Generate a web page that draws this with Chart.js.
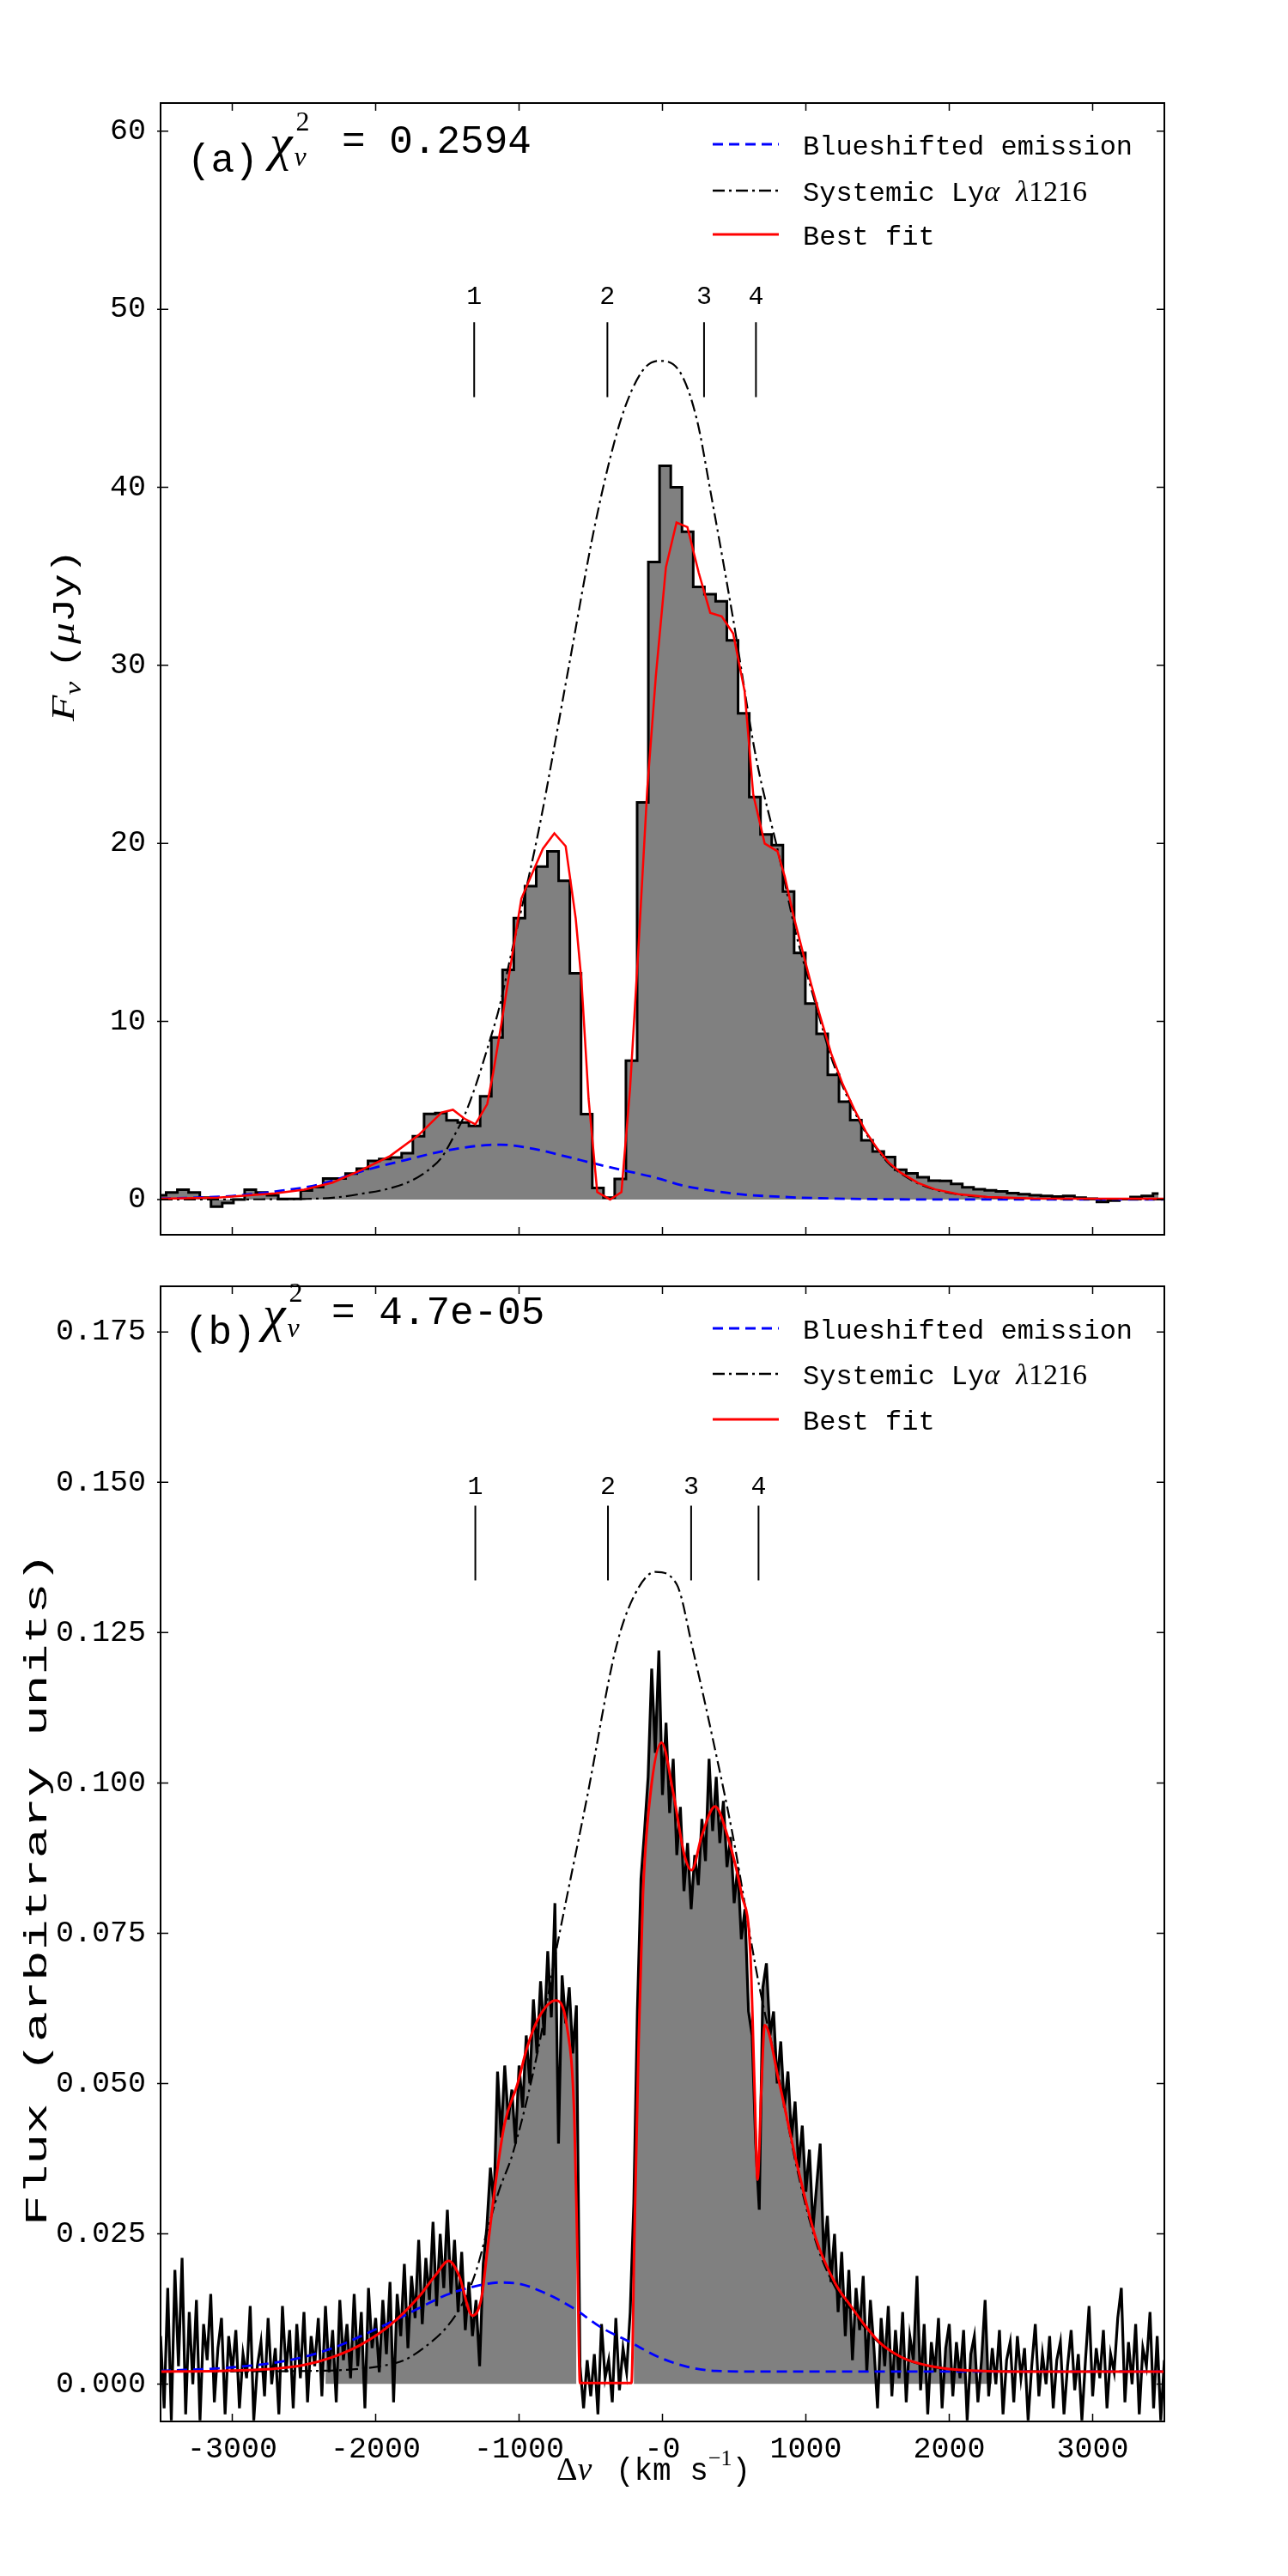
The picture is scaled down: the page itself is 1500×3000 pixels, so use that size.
<!DOCTYPE html>
<html>
<head>
<meta charset="utf-8">
<title>Lyman-alpha profile fits</title>
<script src="https://cdn.jsdelivr.net/npm/chart.js@4.4.1/dist/chart.umd.min.js"></script>
<style>
  body { margin: 0; background: #fff; }
  #wrap { position: relative; width: 1500px; height: 3000px; }
  canvas { position: absolute; left: 0; }
</style>
</head>
<body>
<div id="wrap">
  <canvas id="panelA" width="1500" height="1468" style="top:0"></canvas>
  <canvas id="panelB" width="1500" height="1532" style="top:1468px"></canvas>
</div>
<script>
// ---- shared axis data ----
const xTickValues = [-3000, -2000, -1000, 0, 1000, 2000, 3000];
const xTickLabels = ['-3000', '-2000', '-1000', '-0', '1000', '2000', '3000'];

// ---- panel (a): binned spectrum, uJy ----
const yTicksA = [0, 10, 20, 30, 40, 50, 60];
const yLabelsA = ['0', '10', '20', '30', '40', '50', '60'];
const histA_start = -3500.1;   // centre of first (partial) bin
const histA_width = 78.2;
const histA_f = [
  0.24, 0.4, 0.55, 0.4, 0.1, -0.4, -0.2, 0.0, 0.55, 0.4,
  0.24, 0.03, 0.03, 0.5, 0.7, 1.18, 1.18, 1.45, 1.73, 2.17,
  2.28, 2.36, 2.6, 3.55, 4.81, 4.85, 4.44, 4.33, 4.13, 5.8,
  9.1, 12.9, 15.8, 17.6, 18.7, 19.55, 17.9, 12.7, 4.8, 0.65,
  0.1, 1.15, 7.8, 22.3, 35.8, 41.2, 40.0, 37.5, 34.4, 34.0,
  33.6, 31.4, 27.3, 22.6, 20.5, 19.9, 17.3, 13.85, 11.0, 9.3,
  7.0, 5.5, 4.46, 3.33, 2.7, 2.38, 1.67, 1.47, 1.25, 1.06,
  1.05, 0.88, 0.68, 0.57, 0.52, 0.46, 0.36, 0.3, 0.24, 0.2,
  0.17, 0.2, 0.1, 0.05, -0.14, -0.06, 0.02, 0.14, 0.2, 0.33
];
const redA_v = [-3500, -3100, -2700, -2500, -2300, -2100, -1900, -1700, -1540, -1461,
  -1381, -1305, -1222, -1181, -1122, -1062, -984, -904, -834, -754,
  -675, -605, -565, -515, -455, -365, -286, -226, -166, -106,
  -46, 24, 98, 174, 253, 333, 413, 493, 573, 633,
  713, 802, 853, 914, 974, 1035, 1095, 1176, 1257, 1338,
  1419, 1499, 1580, 1661, 1782, 1902, 2064, 2266, 2589, 3500];
const redA_f = [0.05, 0.11, 0.35, 0.55, 0.95, 1.65, 2.44, 3.62, 4.89, 5.04,
  4.54, 4.22, 5.36, 7.09, 9.93, 13.0, 16.9, 18.4, 19.7, 20.57,
  19.84, 15.79, 12.3, 5.64, 0.42, 0.0, 0.42, 6.22, 14.34, 23.03,
  29.41, 35.5, 38.02, 37.76, 35.2, 32.95, 32.75, 31.79, 28.54, 22.74,
  19.99, 19.56, 18.14, 15.93, 14.04, 12.15, 10.42, 8.21, 6.48, 5.06,
  3.8, 2.85, 2.06, 1.51, 0.93, 0.57, 0.3, 0.14, 0.06, 0.05];
const sysA_v = [-3500, -2800, -2500, -2300, -2100, -1900, -1740, -1620, -1540, -1460,
  -1380, -1300, -1220, -1140, -1063, -864, -665, -465, -290, -143,
  -24, 120, 240, 333, 493, 653, 813, 932, 1035, 1095,
  1176, 1257, 1338, 1419, 1499, 1580, 1661, 1782, 1902, 2064,
  2266, 2589, 3500];
const sysA_f = [0, 0.01, 0.03, 0.1, 0.32, 0.63, 1.1, 1.73, 2.36, 3.47,
  4.73, 6.46, 8.51, 10.72, 13.5, 20.7, 29.4, 38.1, 43.8, 46.5,
  47.1, 46.5, 43.8, 39.85, 32.6, 24.8, 19.3, 14.9, 11.9, 10.2,
  8.0, 6.35, 4.95, 3.72, 2.8, 2.0, 1.47, 0.9, 0.55, 0.29,
  0.13, 0.05, 0];
const blueA_v = [-3500, -3200, -3000, -2700, -2379, -2100, -1801, -1501, -1202, -1130,
  -900, -665, -465, -250, -36, 134, 300, 533, 838, 1100,
  1500, 2000, 3500];
const blueA_f = [0.05, 0.12, 0.2, 0.45, 0.87, 1.58, 2.2, 2.76, 3.07, 3.08,
  2.85, 2.4, 2.0, 1.6, 1.2, 0.8, 0.55, 0.3, 0.15, 0.07,
  0.02, 0, 0];
const markerA_v = [-1313, -384, 290, 652];

// ---- panel (b): full-resolution spectrum, arbitrary units ----
const yTicksB = [0, 0.025, 0.05, 0.075, 0.1, 0.125, 0.15, 0.175];
const yLabelsB = ['0.000', '0.025', '0.050', '0.075', '0.100', '0.125', '0.150', '0.175'];
const specB_start = -3500;
const specB_step = 25;
const specB_f = [
  0.008, -0.004, 0.016, -0.006, 0.019, 0.003, 0.021, -0.005, 0.012, 0.000,
  0.014, -0.006, 0.010, 0.004, 0.015, -0.003, 0.006, 0.011, -0.005, 0.008,
  0.002, 0.009, -0.004, 0.005, 0.001, 0.013, -0.006, 0.003, 0.007, -0.002,
  0.011, 0.000, 0.006, -0.005, 0.013, 0.002, 0.009, -0.004, 0.010, 0.001,
  0.012, -0.003, 0.008, 0.003, 0.011, -0.002, 0.013, 0.002, 0.009, -0.003,
  0.014, 0.004, 0.010, 0.001, 0.015, 0.003, 0.012, -0.004, 0.016, 0.006,
  0.011, 0.002, 0.014, 0.005, 0.017, -0.003, 0.015, 0.008, 0.020, 0.006,
  0.018, 0.011, 0.024, 0.010, 0.021, 0.014, 0.027, 0.013, 0.025, 0.016,
  0.029, 0.015, 0.024, 0.012, 0.022, 0.009, 0.017, 0.008, 0.014, 0.003,
  0.020, 0.026, 0.036, 0.030, 0.052, 0.041, 0.053, 0.044, 0.049, 0.040,
  0.053, 0.046, 0.058, 0.050, 0.064, 0.055, 0.067, 0.058, 0.072, 0.061,
  0.080, 0.040, 0.068, 0.060, 0.066, 0.055, 0.063, 0.003, -0.004, 0.004,
  -0.002, 0.005, -0.005, 0.010, 0.001, 0.004, -0.003, 0.011, -0.001, 0.006,
  0.002, 0.012, 0.030, 0.062, 0.084, 0.092, 0.101, 0.119, 0.105, 0.122,
  0.098, 0.110, 0.095, 0.104, 0.088, 0.096, 0.082, 0.090, 0.079, 0.088,
  0.083, 0.094, 0.087, 0.104, 0.092, 0.101, 0.090, 0.097, 0.086, 0.091,
  0.080, 0.086, 0.074, 0.079, 0.062, 0.058, 0.040, 0.029, 0.066, 0.070,
  0.058, 0.062, 0.050, 0.057, 0.046, 0.052, 0.041, 0.047, 0.036, 0.043,
  0.032, 0.039, 0.026, 0.033, 0.040, 0.021, 0.028, 0.017, 0.025, 0.012,
  0.022, 0.008, 0.019, 0.004, 0.016, 0.009, 0.018, 0.002, 0.014, 0.006,
  -0.004, 0.011, 0.003, 0.013, -0.002, 0.009, 0.001, 0.012, -0.003, 0.008,
  0.004, 0.018, -0.001, 0.010, -0.005, 0.007, 0.002, 0.011, -0.004, 0.006,
  0.010, -0.002, 0.007, 0.001, 0.009, -0.006, 0.005, 0.008, -0.003, 0.004,
  0.014, -0.002, 0.006, 0.000, 0.009, -0.005, 0.004, 0.007, -0.003, 0.008,
  0.001, 0.006, -0.006, 0.003, 0.010, -0.002, 0.005, 0.000, 0.008, -0.004,
  0.004, 0.007, -0.005, 0.003, 0.009, -0.001, 0.005, -0.006, 0.004, 0.013,
  -0.002, 0.006, 0.001, 0.009, -0.004, 0.005, 0.002, 0.011, 0.016, -0.003,
  0.007, 0.000, 0.010, -0.005, 0.006, 0.003, 0.012, -0.004, 0.008, -0.006,
  0.004
];
// velocity windows shaded grey under the spectrum
const fillB_windows = [[-2350, -580], [-210, 2300]];
const redB_v = [-3500, -3100, -2700, -2500, -2300, -2100, -1900, -1700, -1580, -1491,
  -1421, -1325, -1261, -1221, -1161, -1101, -1010, -944, -864, -745,
  -665, -615, -595, -575, -216, -196, -166, -136, -86, -6,
  74, 154, 204, 274, 367, 453, 553, 613, 643, 663,
  689, 713, 813, 932, 1072, 1211, 1310, 1411, 1512, 1613,
  1714, 1916, 2118, 2500, 3500];
const redB_f = [0.0021, 0.0022, 0.0026, 0.0032, 0.0045, 0.0066, 0.0098, 0.0145, 0.0182, 0.0205,
  0.0182, 0.0114, 0.0145, 0.0223, 0.034, 0.0433, 0.050, 0.056, 0.0609, 0.0638,
  0.0593, 0.0446, 0.0241, 0.0002, 0.0002, 0.0241, 0.0569, 0.0814, 0.0977, 0.1067,
  0.0985, 0.0879, 0.0855, 0.0912, 0.0961, 0.0912, 0.0814, 0.0716, 0.0487, 0.034,
  0.0487, 0.0597, 0.0503, 0.0372, 0.0241, 0.0165, 0.0131, 0.0098, 0.007, 0.0052,
  0.004, 0.0028, 0.0023, 0.0021, 0.0021];
const sysB_v = [-3500, -2459, -2200, -1940, -1800, -1661, -1501, -1381, -1301, -1221,
  -1141, -1041, -864, -745, -525, -326, -200, -50, 100, 211,
  371, 491, 671, 813, 932, 1072, 1211, 1310, 1411, 1512,
  1613, 1714, 1916, 2118, 3500];
const sysB_f = [0.0021, 0.0022, 0.0024, 0.0031, 0.004, 0.0061, 0.0096, 0.014, 0.0187, 0.0256,
  0.0321, 0.0386, 0.056, 0.0716, 0.0977, 0.1223, 0.131, 0.1351, 0.133, 0.1223,
  0.1051, 0.0912, 0.0667, 0.051, 0.0365, 0.0235, 0.0158, 0.0125, 0.0094, 0.0068,
  0.005, 0.0039, 0.0027, 0.0022, 0.0021];
const blueB_v = [-3500, -3000, -2600, -2300, -2020, -1860, -1701, -1501, -1301, -1141,
  -1024, -824, -625, -425, -226, -26, 174, 373, 700, 3500];
const blueB_f = [0.0022, 0.0028, 0.004, 0.006, 0.0089, 0.0107, 0.0126, 0.0149, 0.0163, 0.0169,
  0.0168, 0.0152, 0.0127, 0.0094, 0.007, 0.0045, 0.0029, 0.0022, 0.0021, 0.0021];
const markerB_v = [-1305, -380, 200, 670];

// ---- styles ----
const MONO = '"Liberation Mono", "DejaVu Sans Mono", monospace';
const SERIF = '"Liberation Serif", "DejaVu Serif", serif';
const BLUE = '#0000ff', RED = '#ff0000', GREY = '#808080';
const DASH_BLUE = [12, 7];
const DASH_DOT = [14, 5, 3, 5];

Chart.defaults.font.family = MONO;
Chart.defaults.color = '#000';

function zip(xs, ys) { return xs.map((x, i) => ({ x: x, y: ys[i] })); }
function onGrid(start, step, ys) { return ys.map((y, i) => ({ x: start + step * i, y: y })); }
function markerSegments(vs, lo, hi) {
  const pts = [];
  vs.forEach(v => { pts.push({ x: v, y: lo }, { x: v, y: hi }, { x: v, y: null }); });
  return pts;
}

// draw a run of text pieces with different fonts, left to right
function drawRun(ctx, x, y, parts) {
  parts.forEach(p => {
    ctx.font = p.font;
    ctx.fillText(p.t, x, y + (p.dy || 0));
    x += ctx.measureText(p.t).width + (p.gap || 0);
  });
  return x;
}
function runWidth(ctx, parts) {
  let w = 0;
  parts.forEach(p => { ctx.font = p.font; w += ctx.measureText(p.t).width + (p.gap || 0); });
  return w;
}

const legendRows = [
  { color: BLUE, dash: DASH_BLUE, width: 3, parts: [{ t: 'Blueshifted emission', font: '32px ' + MONO }] },
  { color: '#000', dash: DASH_DOT, width: 2.5, parts: [
    { t: 'Systemic Ly', font: '32px ' + MONO },
    { t: 'α', font: 'italic 34px ' + SERIF },
    { t: ' ', font: '32px ' + MONO },
    { t: 'λ', font: 'italic 34px ' + SERIF },
    { t: '1216', font: '34px ' + SERIF }] },
  { color: RED, dash: [], width: 3, parts: [{ t: 'Best fit', font: '32px ' + MONO }] }
];

const panelDecor = {
  id: 'panelDecor',
  afterDatasetsDraw(chart, args, o) {
    const ctx = chart.ctx, a = chart.chartArea;
    const xs = chart.scales.x, ys = chart.scales.y;
    ctx.save();
    ctx.fillStyle = '#000';
    ctx.strokeStyle = '#000';

    // inward tick marks on all four sides
    ctx.lineWidth = 1.5;
    ctx.beginPath();
    xTickValues.forEach(v => {
      const px = xs.getPixelForValue(v);
      ctx.moveTo(px, a.top); ctx.lineTo(px, a.top + 9);
      ctx.moveTo(px, a.bottom); ctx.lineTo(px, a.bottom - 9);
    });
    o.yTicks.forEach(v => {
      const py = ys.getPixelForValue(v);
      ctx.moveTo(a.left - 4, py); ctx.lineTo(a.left + 9, py);
      ctx.moveTo(a.right, py); ctx.lineTo(a.right - 9, py);
    });
    ctx.stroke();
    ctx.lineWidth = 2;
    ctx.strokeRect(a.left, a.top, a.right - a.left, a.bottom - a.top);

    // numbered markers above the line
    ctx.font = '30px ' + MONO;
    ctx.textAlign = 'center';
    o.markerV.forEach((v, i) => {
      ctx.fillText(String(i + 1), xs.getPixelForValue(v), ys.getPixelForValue(o.markerLabelY));
    });

    // legend
    ctx.textAlign = 'left';
    legendRows.forEach((row, i) => {
      const y = a.top + o.legendDy[i];
      ctx.save();
      ctx.strokeStyle = row.color; ctx.lineWidth = row.width; ctx.setLineDash(row.dash);
      ctx.beginPath(); ctx.moveTo(830, y); ctx.lineTo(907, y); ctx.stroke();
      ctx.restore();
      drawRun(ctx, 935, y + 12, row.parts);
    });

    // panel tag with reduced chi-square
    const L = o.tag;
    ctx.font = '46px ' + MONO;
    ctx.fillText(L.letter, L.x, L.base);
    ctx.font = 'italic 60px ' + SERIF;
    ctx.fillText('χ', L.chiX, L.chiBase);
    const sx = L.chiX + ctx.measureText('χ').width + 2;
    ctx.font = '32px ' + SERIF;
    ctx.fillText('2', sx + 2, L.supBase);
    ctx.font = 'italic 32px ' + SERIF;
    ctx.fillText('ν', sx, L.subBase);
    ctx.font = '46px ' + MONO;
    ctx.fillText(L.value, L.valX, L.valBase);

    // y-axis title: rotated, stretched along its length to the reference span
    const T = o.yTitle;
    ctx.save();
    ctx.translate(T.x, T.y);
    ctx.rotate(-Math.PI / 2);
    const w = runWidth(ctx, T.parts);
    ctx.scale(T.len / w, 1);
    drawRun(ctx, -w / 2, 0, T.parts);
    ctx.restore();

    // x-axis title (bottom panel only)
    if (o.xTitle) drawRun(ctx, o.xTitle.x, o.xTitle.y, o.xTitle.parts);

    ctx.restore();
  }
};

function baseOptions(yMin, yMax, yTicks, yLabels) {
  return {
    responsive: false,
    animation: false,
    devicePixelRatio: 1,
    layout: { autoPadding: false, padding: { top: 0, right: 144, bottom: 0, left: 0 } },
    plugins: { legend: { display: false }, tooltip: { enabled: false } },
    elements: { point: { radius: 0 } },
    scales: {
      x: {
        type: 'linear', min: -3500, max: 3500,
        grid: { display: false }, border: { display: false },
        afterBuildTicks: s => { s.ticks = xTickValues.map(v => ({ value: v })); },
        ticks: {
          autoSkip: false, maxRotation: 0, padding: 4,
          font: { size: 35, family: MONO },
          callback: (v, i) => xTickLabels[i]
        }
      },
      y: {
        type: 'linear', min: yMin, max: yMax,
        grid: { display: false }, border: { display: false },
        afterFit: s => { s.width = 187; },
        afterBuildTicks: s => { s.ticks = yTicks.map(v => ({ value: v })); },
        ticks: {
          padding: 9,
          font: { size: 35, family: MONO },
          callback: (v, i) => yLabels[i]
        }
      }
    }
  };
}

// ---- panel (a) ----
const optA = baseOptions(-1.98, 61.58, yTicksA, yLabelsA);
optA.layout.padding.top = 120;
optA.scales.x.display = false;
optA.plugins.panelDecor = {
  yTicks: yTicksA,
  markerV: markerA_v,
  markerLabelY: 50.3,
  legendDy: [48, 102, 153],
  tag: { letter: '(a)', x: 218, base: 200, chiX: 314, chiBase: 186, supBase: 152, subBase: 193,
         value: '= 0.2594', valX: 398, valBase: 178 },
  yTitle: { x: 86, y: 740, len: 200, parts: [
    { t: 'F', font: 'italic 38px ' + SERIF },
    { t: 'ν', font: 'italic 27px ' + SERIF, dy: 8, gap: 12 },
    { t: '(', font: '36px ' + MONO },
    { t: 'μ', font: 'italic 38px ' + SERIF },
    { t: 'Jy)', font: '36px ' + MONO }] }
};

new Chart(document.getElementById('panelA'), {
  type: 'line',
  data: {
    datasets: [
      { data: zip(redA_v, redA_f), borderColor: RED, borderWidth: 2.5, tension: 0, fill: false, order: 0 },
      { data: zip(sysA_v, sysA_f), borderColor: '#000', borderWidth: 2.2, borderDash: DASH_DOT,
        cubicInterpolationMode: 'monotone', fill: false, order: 1 },
      { data: zip(blueA_v, blueA_f), borderColor: BLUE, borderWidth: 2.8, borderDash: DASH_BLUE,
        cubicInterpolationMode: 'monotone', fill: false, order: 2 },
      { data: markerSegments(markerA_v, 45.06, 49.27), borderColor: '#000', borderWidth: 2,
        spanGaps: false, fill: false, order: 3 },
      { data: onGrid(histA_start, histA_width, histA_f), stepped: 'middle', borderColor: '#000',
        borderWidth: 3, backgroundColor: GREY, fill: 'origin', order: 4 }
    ]
  },
  options: optA,
  plugins: [panelDecor]
});

// ---- panel (b) ----
const specPts = onGrid(specB_start, specB_step, specB_f);
const fillPts = specPts.map(p => ({
  x: p.x,
  y: fillB_windows.some(w => p.x >= w[0] && p.x <= w[1]) ? p.y : null
}));

const optB = baseOptions(-0.0062, 0.1826, yTicksB, yLabelsB);
optB.scales.x.afterFit = s => { s.height = 180; };
optB.plugins.panelDecor = {
  yTicks: yTicksB,
  markerV: markerB_v,
  markerLabelY: 0.148,
  legendDy: [49, 102, 155],
  tag: { letter: '(b)', x: 215, base: 97, chiX: 306, chiBase: 82, supBase: 48, subBase: 89,
         value: '= 4.7e-05', valX: 386, valBase: 74 },
  yTitle: { x: 54, y: 732, len: 784, parts: [{ t: 'Flux (arbitrary units)', font: '36px ' + MONO }] },
  xTitle: { x: 648, y: 1420, parts: [
    { t: 'Δ', font: '38px ' + SERIF },
    { t: 'v', font: 'italic 38px ' + SERIF, gap: 6 },
    { t: ' (km s', font: '36px ' + MONO },
    { t: '−1', font: '26px ' + SERIF, dy: -17 },
    { t: ')', font: '36px ' + MONO }] }
};

new Chart(document.getElementById('panelB'), {
  type: 'line',
  data: {
    datasets: [
      { data: zip(redB_v, redB_f), borderColor: RED, borderWidth: 3, cubicInterpolationMode: 'monotone',
        fill: false, order: 0 },
      { data: zip(sysB_v, sysB_f), borderColor: '#000', borderWidth: 2.2, borderDash: DASH_DOT,
        cubicInterpolationMode: 'monotone', fill: false, order: 1 },
      { data: zip(blueB_v, blueB_f), borderColor: BLUE, borderWidth: 2.8, borderDash: DASH_BLUE,
        cubicInterpolationMode: 'monotone', fill: false, order: 2 },
      { data: markerSegments(markerB_v, 0.1337, 0.1461), borderColor: '#000', borderWidth: 2,
        spanGaps: false, fill: false, order: 3 },
      { data: specPts, borderColor: '#000', borderWidth: 3.2, tension: 0, fill: false, order: 4 },
      { data: fillPts, borderWidth: 0, borderColor: 'rgba(0,0,0,0)', spanGaps: false,
        fill: { target: 'origin', above: GREY, below: 'rgba(0,0,0,0)' }, order: 5 }
    ]
  },
  options: optB,
  plugins: [panelDecor]
});
</script>
</body>
</html>
